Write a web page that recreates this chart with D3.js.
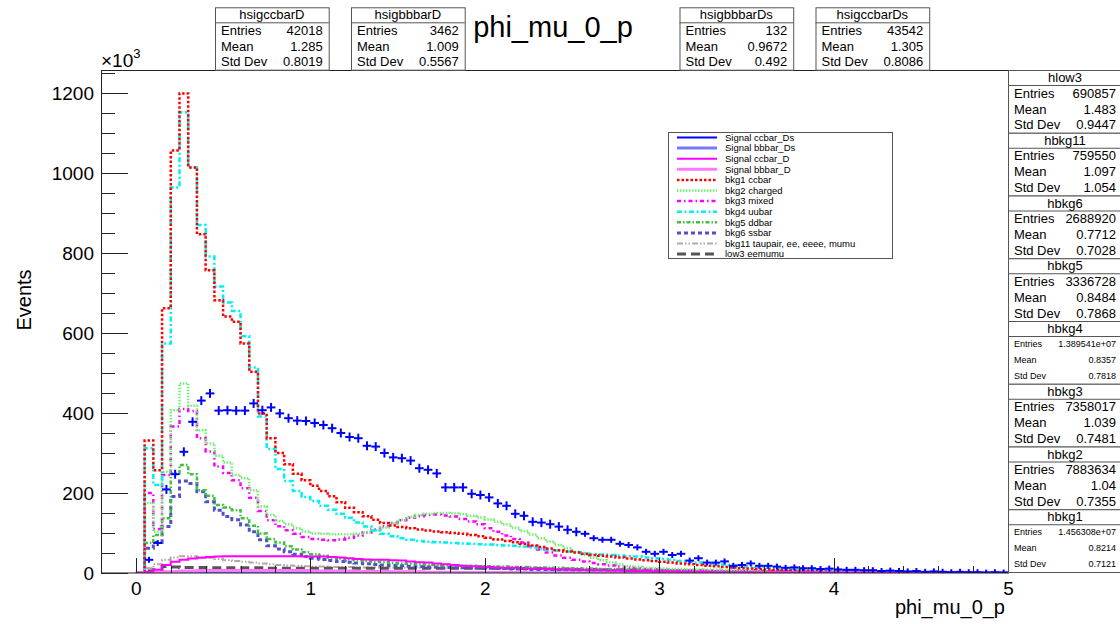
<!DOCTYPE html>
<html><head><meta charset="utf-8">
<script src="https://cdn.jsdelivr.net/npm/d3@7"></script>
<style>
html,body{margin:0;padding:0;background:#fff;}
svg{display:block;}
</style></head><body>
<svg id="c" width="1120" height="624"></svg>
<script>
// ---------------- DATA (values in units of 10^3 events, 100 bins of phi_mu_0_p over [0,5]) ----------------
const histRange = [0, 5];
const nBins = 100;

const bkg1 = [0,331,257,662,1056,1199,1014,847,757,682,
641,628,574,503,399,337,300,272,248,232,
218,205,192,177,163,152,142,133,125,119,
115,112,109,106,104,102,100,98,95,92,
88,84,80,77,73,69,65,61,57,54,
51,48,45,43,41,39,36,34,32,30,
28,26,24,22,20,18,17,15,14,12,
11,10,9,8,7,6,6,5,5,4,
4,3,3,3,2,2,2,2,1.5,1.5,
1,1,1,1,1,0.5,0.5,0.5,0.5,0.5];

const bkg2 = [0,175,103,253,407,474,418,357,324,293,
276,245,237,207,166,145,130,122,112,104,
99,98,97,97,97,98,101,107,114,124,
133,140,145,148,150,150,149,147,143,139,
134,128,121,113,105,96,87,79,70,62,
53,45,38,32,26,21,17,15,13,12,
11,10,10,9,9,8,8,7,7,6,
6,5,5,5,4,4,4,3,3,3,
3,2,2,2,2,2,1.5,1.5,1,1,
1,1,1,1,1,0.5,0.5,0.5,0.5,0.5];

const bkg3 = [0,200,110,245,366,410,405,337,304,266,
250,232,212,188,155,132,117,107,98,90,
85,83,82,84,88,94,101,109,117,125,
132,138,142,145,146,144,141,135,129,122,
112,103,94,85,76,67,59,51,44,38,
33,29,25,22,19,16,14,12,10,9,
8,7,7,6,6,5,5,4,4,4,
3,3,3,3,2,2,2,2,2,1.5,
1.5,1,1,1,1,1,1,1,0.5,0.5,
0.5,0.5,0.5,0.5,0.5,0.5,0.5,0.5,0.5,0.5];

const bkg4 = [0,312,220,574,964,1152,1014,870,791,716,
676,655,592,514,391,310,260,230,205,190,
180,168,158,148,138,126,116,106,98,92,
87,83,80,78,77,76,75,74,73,72,
71,70,69,68,66,64,61,58,56,54,
52,49,47,46,45,44,42,41,39,37,
35,33,30,28,26,24,23,21,19,17,
16,15,13,12,11,10,9,8,7,7,
6,5,5,4,4,3,3,3,2,2,
2,2,1.5,1.5,1,1,1,1,0.5,0.5];

const bkg5 = [0,75,95,137,249,270,247,207,193,170,
164,157,137,118,99,85,76,67,59,52,
47,43,39,36,34,32,30,28,27,25,
24,23,22,21,20,19,19,18,18,17,
17,16,16,15,15,14,14,13,13,12,
12,11,11,10,10,9,9,9,8,8,
7,7,7,6,6,6,5,5,5,5,
4,4,4,4,3,3,3,3,3,2,
2,2,2,2,2,1.5,1.5,1.5,1,1,
1,1,1,1,1,0.5,0.5,0.5,0.5,0.5];

const bkg6 = [0,62,76,116,191,230,224,203,178,157,
141,133,120,103,83,68,60,53,47,41,
37,34,31,29,27,25,23,21,20,19,
18,17,16,15,15,14,14,13,13,12,
12,11,11,10,10,9,9,9,8,8,
7,7,7,6,6,6,5,5,5,5,
4,4,4,4,3,3,3,3,3,2,
2,2,2,2,2,1.5,1.5,1.5,1,1,
1,1,1,1,1,1,0.5,0.5,0.5,0.5,
0.5,0.5,0.5,0.5,0.5,0.5,0.5,0.5,0.5,0.5];

const bkg11 = [0,12,22,33,39,42,42,40,38,35,
32,30,28,26,24,22,20,19,18,17,
16,16,15,15,15,14,14,14,14,13,
13,13,13,13,13,12,12,12,12,12,
11,11,11,11,10,10,10,10,9,9,
9,9,8,8,8,8,7,7,7,7,
6,6,6,6,6,5,5,5,5,5,
4,4,4,4,4,4,3,3,3,3,
3,3,3,2,2,2,2,2,2,2,
2,2,1.5,1.5,1.5,1.5,1,1,1,1];

const low3 = [0,5,8,16,15,14,14,14,13,13,
13,13,13,13,13,12,12,12,12,12,
12,12,12,12,12,12,12,12,12,12,
12,12,12,12,12,12,12,12,12,12,
12,12,12,11,11,11,11,10,10,10,
9,9,9,8,8,8,7,7,7,6,
6,6,5,5,5,5,4,4,4,4,
3,3,3,3,3,3,2,2,2,2,
2,2,2,2,1.5,1.5,1.5,1.5,1.5,1,
1,1,1,1,1,1,1,1,1,1];

const sigCcbarD = [0,3,8,20,28,33,36,38,40,41,
42,42,42,42,42,42,42,42,42,41,
41,41,40,39,37,35,34,33,33,32,
31,29,27,26,24,22,20,18,17,16,
15,14,13,13,12,11,11,10,9,9,
8,8,7,7,6,6,5,5,5,4,
4,4,3,3,3,3,2,2,2,2,
2,1.5,1.5,1,1,1,1,1,0.5,0.5,
0.5,0.5,0.5,0.5,0.5,0.5,0,0,0,0,
0,0,0,0,0,0,0,0,0,0];

const sigBbbarD = [0,1,2,3,4,5,5,6,6,6,
6,6,6,6,6,6,6,6,6,6,
5,5,5,5,5,4,4,4,4,3,
3,3,3,2,2,2,2,1.5,1.5,1,
1,1,1,0.5,0.5,0,0,0,0,0,
0,0,0,0,0,0,0,0,0,0,
0,0,0,0,0,0,0,0,0,0,
0,0,0,0,0,0,0,0,0,0,
0,0,0,0,0,0,0,0,0,0,
0,0,0,0,0,0,0,0,0,0];

const sigBbbarDs = [0,0.5,1,1.5,2,2,2.5,2.5,2.5,2.5,
2.5,2.5,2.5,2.5,2.5,2.5,2,2,2,2,
2,2,1.5,1.5,1.5,1.5,1,1,1,1,
1,0.5,0.5,0.5,0.5,0.5,0,0,0,0,
0,0,0,0,0,0,0,0,0,0,
0,0,0,0,0,0,0,0,0,0,
0,0,0,0,0,0,0,0,0,0,
0,0,0,0,0,0,0,0,0,0,
0,0,0,0,0,0,0,0,0,0,
0,0,0,0,0,0,0,0,0,0];

const sigCcbarDs = [0,33,75,209,247,303,378,431,449,406,
407,406,406,424,407,414,399,387,381,380,
375,370,362,350,340,337,318,316,300,289,
287,281,262,258,249,214,214,214,198,195,
189,174,168,148,143,128,126,122,116,108,
103,98,87,83,83,73,70,64,53,48,
53,45,48,31,37,26,26,29,18,20,
24,18,18,16,13,14,12,12,10,11,
9,8,8,7,7,5,6,5,4,5,
3,4,3,2,3,2,2,1,2,1];

const xTicks = [0,1,2,3,4,5];
const yTicks = [0,200,400,600,800,1000,1200];
const xRange = [-0.2, 5];
const yRange = [0, 1257.5];

const legendLabels = ["Signal ccbar_Ds","Signal bbbar_Ds","Signal ccbar_D","Signal bbbar_D",
  "bkg1 ccbar","bkg2 charged","bkg3 mixed","bkg4 uubar","bkg5 ddbar","bkg6 ssbar",
  "bkg11 taupair, ee, eeee, mumu","low3 eemumu"];

const statNames   = ["hsigccbarD","hsigbbbarD","hsigbbbarDs","hsigccbarDs","hlow3","hbkg11","hbkg6","hbkg5","hbkg4","hbkg3","hbkg2","hbkg1"];
const statEntries = ["42018","3462","132","43542","690857","759550","2688920","3336728","1.389541e+07","7358017","7883634","1.456308e+07"];
const statMeans   = ["1.285","1.009","0.9672","1.305","1.483","1.097","0.7712","0.8484","0.8357","1.039","1.04","0.8214"];
const statStdDevs = ["0.8019","0.5567","0.492","0.8086","0.9447","1.054","0.7028","0.7868","0.7818","0.7481","0.7355","0.7121"];

// ---------------- DRAWING ----------------
const FONT = '"Liberation Sans", Arial, Helvetica, sans-serif';
const svg = d3.select("#c").attr("font-family", FONT);
svg.append("rect").attr("width",1120).attr("height",624).attr("fill","#fff");

const fr = {l:101, r:1008, t:70, b:573};
const x = d3.scaleLinear().domain(xRange).range([fr.l, fr.r]);
const y = d3.scaleLinear().domain(yRange).range([fr.b, fr.t]);

svg.append("defs").append("clipPath").attr("id","fc")
  .append("rect").attr("x",fr.l).attr("y",fr.t).attr("width",fr.r-fr.l).attr("height",fr.b-fr.t);

// styles (kept out of data)
const styleOf = {
  sigCcbarDs:{color:"#0000ff", w:2, dash:null},
  sigBbbarDs:{color:"#7878ff", w:3, dash:null},
  sigCcbarD:{color:"#ff00ff", w:2, dash:null},
  sigBbbarD:{color:"#ff78ff", w:3, dash:null},
  bkg1:{color:"#ff0000", w:2.5, dash:"2.5,2"},
  bkg2:{color:"#70f070", w:2.5, dash:"1.5,1.5"},
  bkg3:{color:"#ff00ff", w:2.5, dash:"4,3,1.5,3"},
  bkg4:{color:"#00f0f0", w:2.5, dash:"5,2.5,2,2.5"},
  bkg5:{color:"#40c040", w:2.5, dash:"4,2,1.5,2"},
  bkg6:{color:"#5050cc", w:3, dash:"4,3"},
  bkg11:{color:"#b3a99e", w:2, dash:"6,2,1.5,2,1.5,2"},
  low3:{color:"#555555", w:3, dash:"9,5"}
};
const dataOf = {bkg1,bkg2,bkg3,bkg4,bkg5,bkg6,bkg11,low3,sigCcbarD,sigBbbarD,sigBbbarDs,sigCcbarDs};
const legendKeys = ["sigCcbarDs","sigBbbarDs","sigCcbarD","sigBbbarD","bkg1","bkg2","bkg3","bkg4","bkg5","bkg6","bkg11","low3"];
const drawOrder = ["bkg11","low3","bkg6","bkg5","bkg3","bkg2","bkg4","bkg1","sigBbbarDs","sigBbbarD","sigCcbarD"];

const bw = (histRange[1]-histRange[0])/nBins;
const edges = d3.range(nBins+1).map(i => histRange[0] + i*bw);

const plot = svg.append("g").attr("clip-path","url(#fc)");
const stepLine = d3.line().x(d=>x(d[0])).y(d=>y(d[1])).curve(d3.curveStepAfter);
drawOrder.forEach(k=>{
  const vals = dataOf[k];
  const pts = vals.map((v,i)=>[edges[i], v]);
  pts.push([edges[nBins], vals[nBins-1]]);
  const s = styleOf[k];
  plot.append("path").attr("d", stepLine(pts)).attr("fill","none")
    .attr("stroke", s.color).attr("stroke-width", s.w)
    .attr("stroke-dasharray", s.dash);
});

// signal ccbar_Ds as error-bar crosses
const cg = plot.append("g").attr("stroke", styleOf.sigCcbarDs.color).attr("stroke-width",2);
sigCcbarDs.forEach((v,i)=>{
  if(v<=0) return;
  const yc = y(v), xl = x(edges[i]), xr = x(edges[i+1]), xc = (xl+xr)/2;
  const h = v>100 ? 4.5 : 3;
  cg.append("line").attr("x1",xl).attr("x2",xr).attr("y1",yc).attr("y2",yc);
  cg.append("line").attr("x1",xc).attr("x2",xc).attr("y1",yc-h).attr("y2",yc+h);
});

// axes
function styleAxis(g){
  g.select(".domain").remove();
  g.attr("font-family",FONT).attr("font-size",19);
  g.selectAll("line").attr("stroke","#222").attr("shape-rendering","crispEdges");
  g.selectAll("text").attr("fill","#000");
}
const yMinor = d3.range(0, 1257, 50).filter(v=>v%200!==0);
svg.append("g").attr("transform",`translate(${fr.l},0)`)
  .call(d3.axisLeft(y).tickValues(yMinor).tickSize(-13.5).tickFormat(""))
  .call(styleAxis);
svg.append("g").attr("transform",`translate(${fr.l},0)`)
  .call(d3.axisLeft(y).tickValues(yTicks).tickSize(-27).tickPadding(7).tickFormat(d3.format("d")))
  .call(styleAxis);

const xMinor = d3.range(-0.2, 5.001, 0.2).filter(v=>Math.abs(v-Math.round(v))>1e-6);
svg.append("g").attr("transform",`translate(0,${fr.b})`)
  .call(d3.axisBottom(x).tickValues(xMinor).tickSize(-7.5).tickFormat(""))
  .call(styleAxis);
svg.append("g").attr("transform",`translate(0,${fr.b})`)
  .call(d3.axisBottom(x).tickValues(xTicks).tickSize(-15).tickPadding(9).tickFormat(d3.format("d")))
  .call(styleAxis);

// frame
svg.append("rect").attr("x",fr.l+0.5).attr("y",fr.t+0.5).attr("width",fr.r-fr.l).attr("height",fr.b-fr.t-0.5)
  .attr("fill","none").attr("stroke","#222").attr("stroke-width",1);

// axis titles / labels
const xp = svg.append("text").attr("x",fr.l).attr("y",67).attr("font-size",19).attr("fill","#000");
xp.append("tspan").text("×10");
xp.append("tspan").attr("font-size",13).attr("dy",-9).text("3");
svg.append("text").attr("transform","translate(31,300) rotate(-90)").attr("text-anchor","middle")
  .attr("font-size",20).attr("fill","#000").text("Events");
svg.append("text").attr("x",1005).attr("y",614).attr("text-anchor","end")
  .attr("font-size",20).attr("fill","#000").text("phi_mu_0_p");
svg.append("text").attr("x",553).attr("y",37).attr("text-anchor","middle")
  .attr("font-size",29).attr("fill","#000").text("phi_mu_0_p");

// legend
const lg = svg.append("g");
lg.append("rect").attr("x",668.5).attr("y",132.5).attr("width",224).attr("height",126)
  .attr("fill","#fff").attr("stroke","#555").attr("stroke-width",1);
legendKeys.forEach((k,i)=>{
  const yy = 137.5 + i*10.6;
  const s = styleOf[k];
  lg.append("line").attr("x1",677).attr("x2",717).attr("y1",yy).attr("y2",yy)
    .attr("stroke",s.color).attr("stroke-width",s.w).attr("stroke-dasharray",s.dash);
  lg.append("text").attr("x",725).attr("y",yy).attr("dy","0.35em").attr("font-size",9.5)
    .attr("fill","#000").text(legendLabels[i]);
});

// stat boxes
function statBox(i, bx, by, w, h, small){
  const g = svg.append("g");
  g.append("rect").attr("x",bx+0.5).attr("y",by+0.5).attr("width",w).attr("height",h)
    .attr("fill","#fff").attr("stroke","#555").attr("stroke-width",1);
  g.append("line").attr("x1",bx).attr("x2",bx+w).attr("y1",by+15.5).attr("y2",by+15.5)
    .attr("stroke","#555").attr("stroke-width",1);
  g.append("text").attr("x",bx+w/2).attr("y",by+7.5).attr("dy","0.36em").attr("text-anchor","middle")
    .attr("font-size",13).attr("fill","#000").text(statNames[i]);
  const rh = (h-15)/3;
  const labels = ["Entries","Mean","Std Dev"];
  const vals = [statEntries[i], statMeans[i], statStdDevs[i]];
  const fs = small ? 9 : 13;
  labels.forEach((lab,j)=>{
    const yc = by + 15 + rh*(j+0.5);
    g.append("text").attr("x",bx+6).attr("y",yc).attr("dy","0.36em").attr("font-size",fs).attr("fill","#000").text(lab);
    g.append("text").attr("x",bx+w-6).attr("y",yc).attr("dy","0.36em").attr("text-anchor","end")
      .attr("font-size",fs).attr("fill","#000").text(vals[j]);
  });
}
const topLefts = [215, 351, 679.5, 815.5];
topLefts.forEach((bx,i)=> statBox(i, bx, 7.3, 113.7, 62.4, false));
for(let j=0;j<8;j++){
  const i = 4+j;
  statBox(i, 1008, 70 + j*62.75, 114, 62.75, statEntries[i].length > 9);
}
</script>
</body></html>
